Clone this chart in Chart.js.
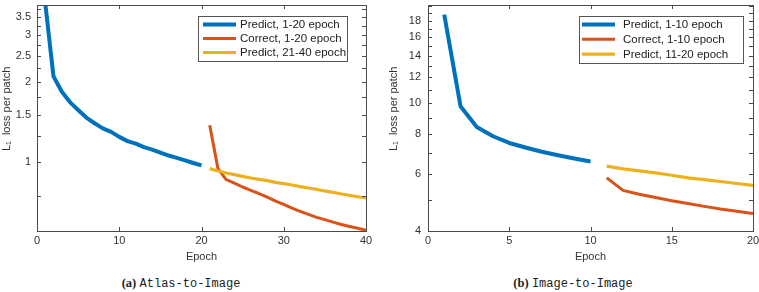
<!DOCTYPE html>
<html>
<head>
<meta charset="utf-8">
<script src="https://cdn.jsdelivr.net/npm/chart.js@4.4.1/dist/chart.umd.min.js"></script>
<style>
	body { margin: 0; background: #fff; width: 759px; height: 292px; position: relative; overflow: hidden; font-family: 'Liberation Sans', Arial, sans-serif; }
	.panel { position: absolute; top: 0; height: 264px; }
	#panelA { left: 0; width: 375px; }
	#panelB { left: 380px; width: 379px; }
	.cap { position: absolute; top: 276px; font-size: 12px; color: #222; white-space: nowrap; transform: translateX(-50%); }
	.cap b { font-family: 'Liberation Serif', 'DejaVu Serif', serif; font-size: 12.5px; }
	.cap code { font-family: 'Liberation Mono', 'DejaVu Sans Mono', monospace; font-size: 12px; }
</style>
</head>
<body>
<div class="panel" id="panelA"><canvas id="chartA"></canvas></div>
<div class="panel" id="panelB"><canvas id="chartB"></canvas></div>
<div class="cap" style="left:181px"><b>(a)</b> <code>Atlas-to-Image</code></div>
<div class="cap" style="left:573px"><b>(b)</b> <code>Image-to-Image</code></div>
<script>
// (a) Atlas-to-Image
const epochsA1 = [1, 2, 3, 4, 5, 6, 7, 8, 9, 10, 11, 12, 13, 14, 15, 16, 17, 18, 19, 20];
const epochsA2 = [21, 22, 23, 24, 25, 26, 27, 28, 29, 30, 31, 32, 33, 34, 35, 36, 37, 38, 39, 40];
const predictA1 = [3.95, 2.10, 1.84, 1.68, 1.57, 1.47, 1.40, 1.34, 1.30, 1.245, 1.20, 1.175, 1.14, 1.116, 1.087, 1.06, 1.038, 1.017, 0.994, 0.974];
const correctA1 = [1.377, 0.947, 0.861, 0.836, 0.808, 0.785, 0.763, 0.741, 0.716, 0.696, 0.674, 0.655, 0.638, 0.622, 0.610, 0.597, 0.585, 0.575, 0.566, 0.556];
const predictA2 = [0.947, 0.928, 0.912, 0.899, 0.886, 0.873, 0.863, 0.854, 0.841, 0.832, 0.822, 0.811, 0.801, 0.792, 0.781, 0.772, 0.761, 0.752, 0.743, 0.735];
const yTicksA = [0.75, 1, 1.25, 1.5, 1.75, 2, 2.25, 2.5, 2.75, 3, 3.25, 3.5, 3.75];
const yLabelsA = [1, 1.5, 2, 2.5, 3, 3.5];
const labelsA = ['Predict, 1-20 epoch', 'Correct, 1-20 epoch', 'Predict, 21-40 epoch'];

// (b) Image-to-Image
const epochsB1 = [1, 2, 3, 4, 5, 6, 7, 8, 9, 10];
const epochsB2 = [11, 12, 13, 14, 15, 16, 17, 18, 19, 20];
const predictB1 = [18.8, 9.77, 8.42, 7.88, 7.51, 7.27, 7.05, 6.88, 6.72, 6.58];
const correctB1 = [5.85, 5.35, 5.20, 5.08, 4.97, 4.87, 4.77, 4.68, 4.61, 4.53];
const predictB2 = [6.36, 6.24, 6.15, 6.06, 5.96, 5.85, 5.78, 5.70, 5.62, 5.54];
const yTicksB = [4, 5, 6, 7, 8, 9, 10, 11, 12, 13, 14, 15, 16, 17, 18, 19, 20];
const yLabelsB = [4, 6, 8, 10, 12, 14, 16, 18];
const labelsB = ['Predict, 1-10 epoch', 'Correct, 1-10 epoch', 'Predict, 11-20 epoch'];

const C = { blue: '#0072bd', orange: '#d95319', yellow: '#edb120', axis: '#4a4a4a', text: '#333' };
const FONT = "'Liberation Sans', Arial, sans-serif";
Chart.defaults.color = C.text;
Chart.defaults.font.family = FONT;
Chart.defaults.font.size = 11;

const pts = (xs, ys) => xs.map((x, i) => ({ x, y: ys[i] }));
const noPad = s => { s.paddingTop = 0; s.paddingBottom = 0; s.paddingLeft = 0; s.paddingRight = 0; };

// MATLAB style box with inward ticks on all four sides
const boxTicks = {
	id: 'boxTicks',
	afterDatasetsDraw(chart) {
		const { ctx, chartArea: a, scales: { x, y } } = chart;
		const len = 4;
		ctx.save();
		ctx.strokeStyle = C.axis;
		ctx.lineWidth = 1;
		ctx.beginPath();
		x.ticks.forEach(t => {
			const px = Math.round(x.getPixelForValue(t.value)) + 0.5;
			ctx.moveTo(px, a.bottom); ctx.lineTo(px, a.bottom - len);
			ctx.moveTo(px, a.top); ctx.lineTo(px, a.top + len);
		});
		y.ticks.forEach(t => {
			const py = Math.round(y.getPixelForValue(t.value)) + 0.5;
			ctx.moveTo(a.left, py); ctx.lineTo(a.left + len, py);
			ctx.moveTo(a.right, py); ctx.lineTo(a.right - len, py);
		});
		ctx.stroke();
		ctx.strokeRect(Math.round(a.left) + 0.5, Math.round(a.top) + 0.5, Math.round(a.right - a.left), Math.round(a.bottom - a.top));
		ctx.restore();
	}
};

// legend box inside the plot, top right
const boxLegend = {
	id: 'boxLegend',
	afterDraw(chart, args, o) {
		const { ctx, chartArea: a } = chart;
		const left = a.right - o.right - o.width, top = a.top + o.top;
		ctx.save();
		ctx.fillStyle = '#fff';
		ctx.fillRect(left, top, o.width, o.height);
		ctx.strokeStyle = '#555';
		ctx.lineWidth = 1;
		ctx.strokeRect(Math.round(left) + 0.5, Math.round(top) + 0.5, o.width, o.height);
		ctx.font = `11.5px ${FONT}`;
		ctx.textBaseline = 'middle';
		chart.data.datasets.forEach((ds, i) => {
			const yy = top + o.first + i * o.gap;
			ctx.strokeStyle = ds.borderColor;
			ctx.lineWidth = ds.borderWidth;
			ctx.beginPath();
			ctx.moveTo(left + o.lineStart, yy);
			ctx.lineTo(left + o.lineStart + 33, yy);
			ctx.stroke();
			ctx.fillStyle = '#222';
			ctx.fillText(ds.label, left + o.textStart, yy + 0.5);
		});
		ctx.restore();
	}
};

function lossChart(id, cfg) {
	return new Chart(document.getElementById(id), {
		type: 'line',
		data: {
			datasets: [
				{ label: cfg.labels[0], data: pts(cfg.e1, cfg.predict1), borderColor: C.blue, borderWidth: 4, order: 2, clip: 0 },
				{ label: cfg.labels[1], data: pts(cfg.e2, cfg.correct1), borderColor: C.orange, borderWidth: 3, order: 1 },
				{ label: cfg.labels[2], data: pts(cfg.e2, cfg.predict2), borderColor: C.yellow, borderWidth: 3.2, order: 0 },
			].map(d => ({ ...d, pointRadius: 0, tension: 0, borderJoinStyle: 'round', fill: false }))
		},
		options: {
			responsive: true, maintainAspectRatio: false, animation: false,
			layout: { padding: { top: 5, right: cfg.padRight, left: 0, bottom: 0 } },
			plugins: { legend: { display: false }, tooltip: { enabled: false }, boxLegend: cfg.legend },
			scales: {
				x: {
					type: 'linear', min: 0, max: cfg.xMax,
					grid: { display: false, drawTicks: false }, border: { display: false },
					ticks: { stepSize: cfg.xStep, padding: 3, maxRotation: 0 },
					title: { display: true, text: 'Epoch', padding: { top: 0, bottom: 0 }, font: { size: 11 } },
					afterFit: s => { s.height = 33; noPad(s); }
				},
				y: {
					type: 'logarithmic', min: cfg.yMin, max: cfg.yMax,
					grid: { display: false, drawTicks: false }, border: { display: false },
					afterBuildTicks: s => { s.ticks = cfg.yTicks.map(v => ({ value: v })); },
					ticks: { autoSkip: false, padding: cfg.yPad, callback: v => cfg.yLabels.includes(v) ? String(v) : '' },
					title: { display: true, text: '      L\u2081  loss per patch', padding: { top: cfg.titlePad, bottom: 0 }, font: { size: 11 } },
					afterFit: s => { s.width = cfg.yWidth; noPad(s); }
				}
			}
		},
		plugins: [boxTicks, boxLegend]
	});
}

lossChart('chartA', {
	labels: labelsA, e1: epochsA1, e2: epochsA2,
	predict1: predictA1, correct1: correctA1, predict2: predictA2,
	xMax: 40, xStep: 10, yMin: 0.553, yMax: 3.88,
	yTicks: yTicksA, yLabels: yLabelsA, yPad: 6, yWidth: 37, titlePad: 0, padRight: 9,
	legend: { right: 19, top: 11, width: 149, height: 45, first: 8.5, gap: 14, lineStart: 5, textStart: 42 }
});

lossChart('chartB', {
	labels: labelsB, e1: epochsB1, e2: epochsB2,
	predict1: predictB1, correct1: correctB1, predict2: predictB2,
	xMax: 20, xStep: 5, yMin: 4, yMax: 20.15,
	yTicks: yTicksB, yLabels: yLabelsB, yPad: 7, yWidth: 48, titlePad: 7, padRight: 6,
	legend: { right: 10, top: 11, width: 164, height: 47, first: 8.5, gap: 14.8, lineStart: 3, textStart: 44 }
});
</script>
</body>
</html>
